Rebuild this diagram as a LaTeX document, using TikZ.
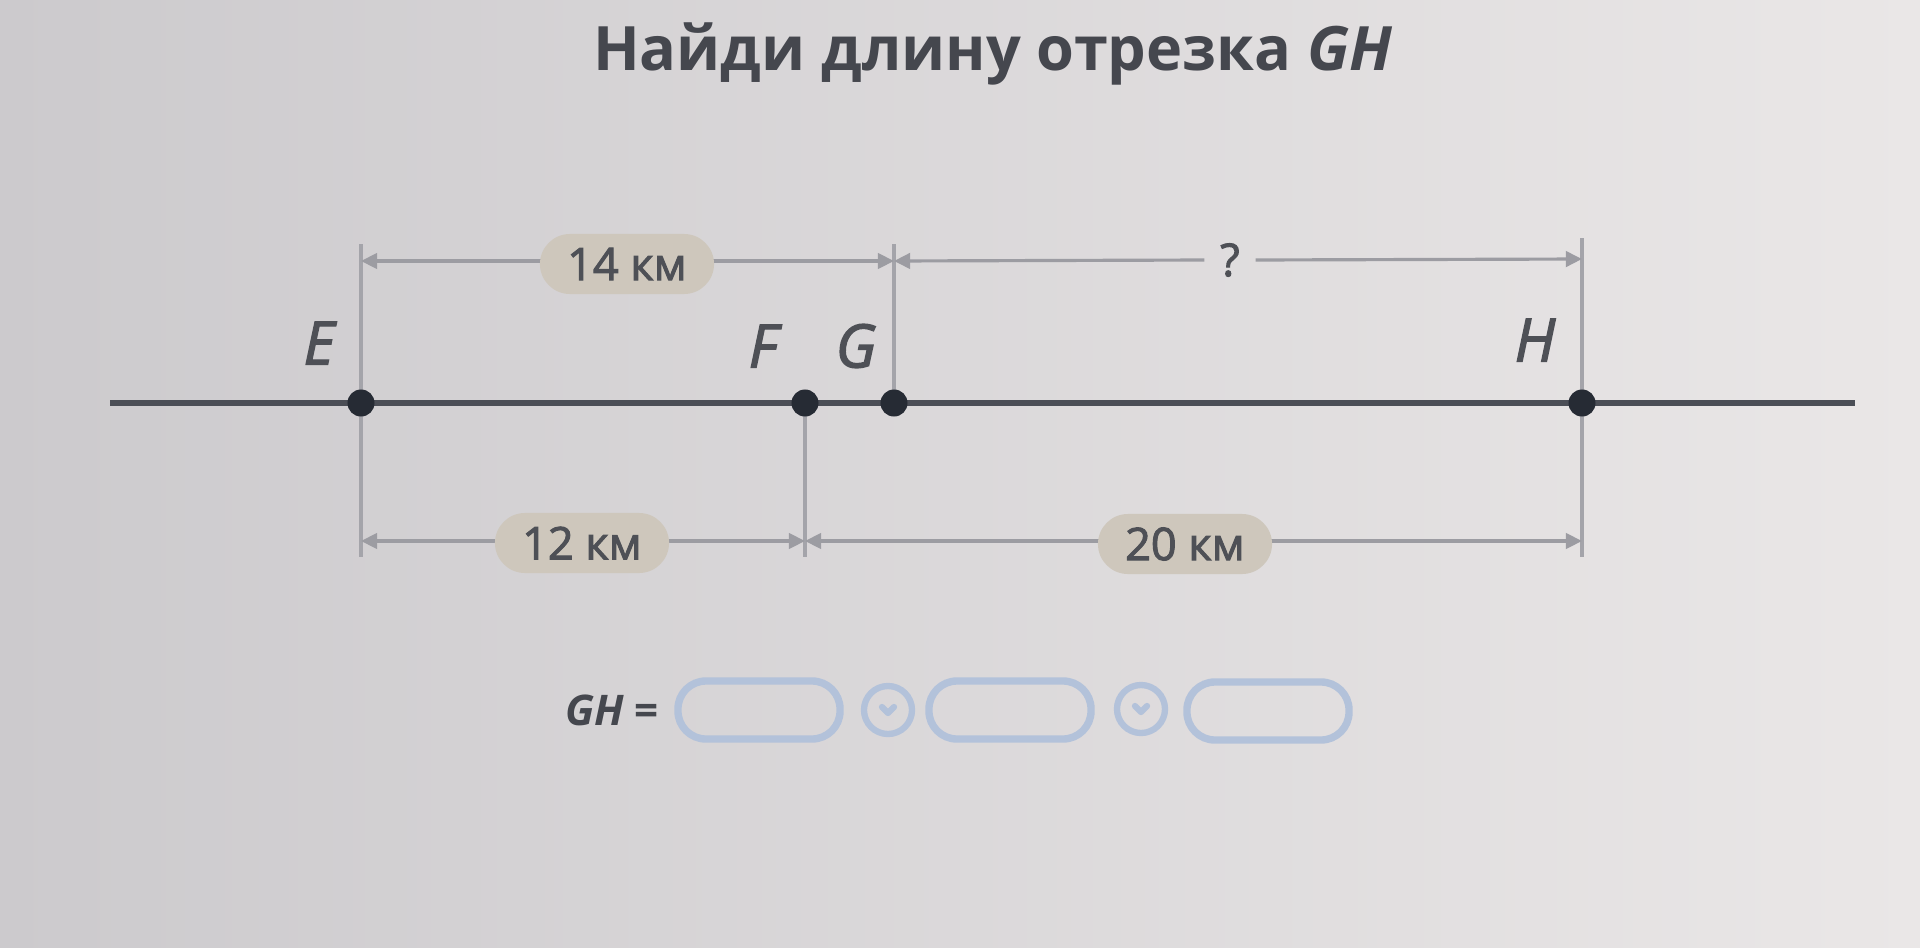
\documentclass[tikz,border=0pt]{standalone}
\usepackage{fontspec}
\setmainfont{Open Sans}
\newfontfamily\semib[FakeBold=2.2]{Open Sans}
\usetikzlibrary{arrows.meta}
\definecolor{bgL}{HTML}{CCCACD}
\definecolor{bgR}{HTML}{EAE7E7}
\definecolor{titlec}{HTML}{45474E}
\definecolor{txtc}{HTML}{4E5056}
\definecolor{linec}{HTML}{4B4E56}
\definecolor{dotc}{HTML}{262B34}
\definecolor{dimc}{HTML}{9C9CA2}
\definecolor{extc}{HTML}{A4A4AA}
\definecolor{pillc}{HTML}{CEC7BC}
\definecolor{boxc}{HTML}{B3C2DA}
\begin{document}
\begin{tikzpicture}[x=0.01cm,y=-0.01cm,
  dimline/.style={draw=dimc, line width=0.9pt},
  dimtip/.style={-{Triangle[length=4.6pt,width=4.4pt]}},
  dimtips/.style={{Triangle[length=4.6pt,width=4.4pt]}-{Triangle[length=4.6pt,width=4.4pt]}},
  extline/.style={draw=extc, line width=0.9pt},
  mainline/.style={draw=linec, line width=1.9pt},
  pill/.style={fill=pillc, rounded corners=0.3cm, minimum width=1.74cm, minimum height=0.6cm, inner sep=0pt, text=txtc, font=\semib\fontsize{12.8}{14}\selectfont},
  qmark/.style={text=txtc, inner sep=0pt, minimum width=0.5cm, font=\semib\fontsize{12.8}{14}\selectfont},
  ptlabel/.style={text=txtc, inner sep=0pt, font=\semib\itshape\fontsize{17}{20}\selectfont},
  dot/.style={circle, fill=dotc, minimum size=0.27cm, inner sep=0pt},
  ansbox/.style={draw=boxc, line width=2.1pt, rounded corners=0.28cm, minimum width=1.62cm, minimum height=0.58cm, inner sep=0pt},
  selc/.style={circle, draw=boxc, line width=1.8pt, minimum size=0.48cm, inner sep=0pt},
  chev/.style={draw=boxc, line width=1.8pt, line cap=round, line join=round}
]
\useasboundingbox (0,0) rectangle (1920,948);
\shade[left color=bgL, right color=bgR] (0,0) rectangle (1920,948);

% title
\node[anchor=base, text=titlec, inner sep=0pt, font=\bfseries\fontsize{17.4}{20}\selectfont] (title) at (993,70) {Найди длину отрезка \textit{GH}};

% main line
\coordinate (L0) at (110,403);
\coordinate (L1) at (1855,403);
\draw[mainline] (L0) -- (L1);

% extension lines
\coordinate (Et) at (361,244); \coordinate (Eb) at (361,557);
\coordinate (Gt) at (894,244); \coordinate (Gm) at (894,403);
\coordinate (Fm) at (805,403); \coordinate (Fb) at (805,557);
\coordinate (Ht) at (1582,238); \coordinate (Hb) at (1582,557);
\draw[extline] (Et) -- (Eb);
\draw[extline] (Gt) -- (Gm);
\draw[extline] (Fm) -- (Fb);
\draw[extline] (Ht) -- (Hb);

% points
\node[dot] (E) at (361,403) {};
\node[dot] (F) at (805,403) {};
\node[dot] (G) at (894,403) {};
\node[dot] (H) at (1582,403) {};

\node[ptlabel] (lE) at (319,343) {E};
\node[ptlabel] (lF) at (763,346) {F};
\node[ptlabel] (lG) at (856,346) {G};
\node[ptlabel] (lH) at (1535,340) {H};

% top dimensions
\coordinate (Etd) at (361,261);
\coordinate (Gtd) at (894,261);
\coordinate (Htd) at (1582,259);
\draw[dimline, dimtips] (Etd) -- (Gtd);
\node[pill] (d14) at (627,264) {14 км};
\node[qmark] (q) at (1230,260) {?};
\draw[dimline, dimtip] (q.west) -- (Gtd);
\draw[dimline, dimtip] (q.east) -- (Htd);

% bottom dimensions
\coordinate (Ebd) at (361,541);
\coordinate (Fbd) at (805,541);
\coordinate (Hbd) at (1582,541);
\draw[dimline, dimtips] (Ebd) -- (Fbd);
\draw[dimline, dimtips] (Fbd) -- (Hbd);
\node[pill] (d12) at (582,543) {12 км};
\node[pill] (d20) at (1185,544) {20 км};

% answer row
\node[text=titlec, inner sep=0pt, font=\bfseries\fontsize{12}{14}\selectfont] (gh) at (612,710) {\textit{GH} =};
\node[ansbox] (b1) at (759,710) {};
\node[selc] (c1) at (888,710) {};
\node[ansbox] (b2) at (1010,710) {};
\node[selc] (c2) at (1141,709) {};
\node[ansbox] (b3) at (1268,711) {};
\draw[chev] (c1.center) ++(-6,-3) -- ++(6,6) -- ++(6,-6);
\draw[chev] (c2.center) ++(-6,-3) -- ++(6,6) -- ++(6,-6);
\end{tikzpicture}
\end{document}
